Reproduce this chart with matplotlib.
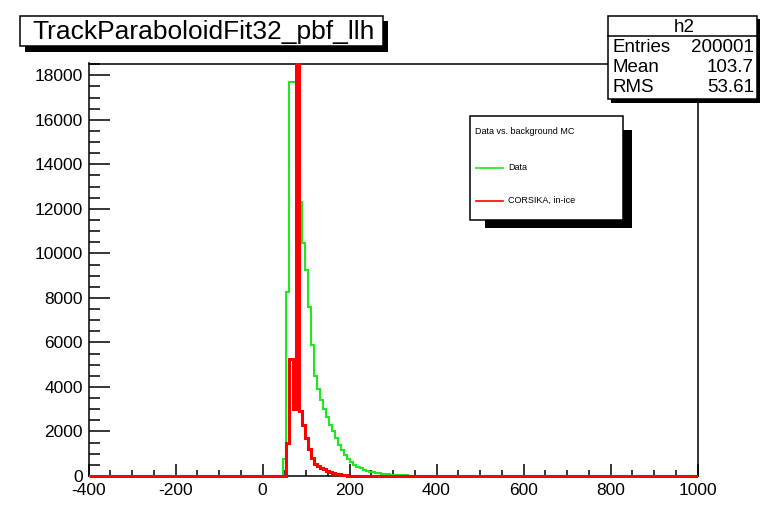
import numpy as np
import matplotlib.pyplot as plt
from matplotlib.patches import Rectangle
from matplotlib.lines import Line2D
from matplotlib.ticker import MultipleLocator

plt.rcParams['font.family'] = ['Liberation Sans', 'DejaVu Sans']
plt.rcParams['axes.unicode_minus'] = False

# binning: 200 bins from -400 to 1000
x_min, x_max, bin_width = -400, 1000, 7

# Data (green), first non-empty bin starts at 48
data_start = 48
data_counts = [770, 8250, 17700, 17700, 14000, 12300, 10480, 9250, 7600, 5900,
               4500, 3900, 3400, 3000, 2650, 2300, 2000, 1700, 1400, 1150,
               950, 780, 630, 510, 420, 350, 290, 240, 200, 165,
               140, 115, 95, 80, 68, 58, 50, 42, 35, 30,
               25, 20, 15, 8]

# CORSIKA in-ice (red), first non-empty bin starts at 55
mc_start = 55
mc_counts = [1500, 5260, 3000, 26000, 2900, 2300, 1700, 1200, 800, 560,
             450, 380, 300, 240, 180, 140, 100, 70, 50, 30, 15]

title_text = "TrackParaboloidFit32_pbf_llh"
stats_name = "h2"
stats_rows = [("Entries", "200001"), ("Mean", "103.7"), ("RMS", "53.61")]
legend_header = "Data vs. background MC"
legend_labels = ["Data", "CORSIKA, in-ice"]

edges = np.arange(x_min, x_max + bin_width, bin_width)


def full_hist(start, counts):
    vals = np.zeros(len(edges) - 1)
    i0 = (start - x_min) // bin_width
    vals[i0:i0 + len(counts)] = counts
    return vals


W, H = 761, 505


def fx(x):
    return x / W


def fy(y):
    return 1 - y / H


fig = plt.figure(figsize=(W / 100, H / 100), dpi=100)
ax = fig.add_axes([fx(88.5), fy(476), fx(697.5) - fx(88.5), fy(63.5) - fy(476)])

green = "#1ee81e"
red = "#ff0000"
# clip slightly below the x axis so the zero line sits on top of it (ROOT style)
clip = Rectangle((0, -0.006), 1, 1.008, transform=ax.transAxes, visible=False)
ax.add_patch(clip)
h_data = ax.stairs(full_hist(data_start, data_counts), edges, color=green, lw=1.5, zorder=3)
h_mc = ax.stairs(full_hist(mc_start, mc_counts), edges, color=red, lw=2.2, zorder=4)
h_data.set_clip_path(clip)
h_mc.set_clip_path(clip)

ax.set_xlim(x_min, x_max)
ax.set_ylim(0, 18530)
ax.xaxis.set_major_locator(MultipleLocator(200))
ax.xaxis.set_minor_locator(MultipleLocator(50))
ax.yaxis.set_major_locator(MultipleLocator(2000))
ax.yaxis.set_minor_locator(MultipleLocator(500))
ax.tick_params(which="both", direction="in", top=False, right=False, width=1.1)
ax.tick_params(which="major", labelsize=12.5)
ax.tick_params(axis="x", which="major", length=8.6, pad=5)
ax.tick_params(axis="x", which="minor", length=4.3)
ax.tick_params(axis="y", which="major", length=15, pad=4)
ax.tick_params(axis="y", which="minor", length=8)
for s in ax.spines.values():
    s.set_linewidth(1.1)


def box(x0, y0, x1, y1, shadow=None):
    if shadow is not None:
        sx0, sy0, sx1, sy1 = shadow
        fig.add_artist(Rectangle((fx(sx0), fy(sy1)), fx(sx1) - fx(sx0), fy(sy0) - fy(sy1),
                                 transform=fig.transFigure, facecolor="black",
                                 edgecolor="none", zorder=5))
    fig.add_artist(Rectangle((fx(x0), fy(y1)), fx(x1) - fx(x0), fy(y0) - fy(y1),
                             transform=fig.transFigure, facecolor="white",
                             edgecolor="black", lw=1.1, zorder=6))


# title box
box(20, 16, 383, 46, shadow=(25, 21, 388, 52))
fig.text(fx(204), fy(31.5), title_text, ha="center", va="center", fontsize=19, zorder=7)

# stats box
box(608, 16, 757, 99, shadow=(611, 19, 760, 103))
fig.add_artist(Line2D([fx(608), fx(757)], [fy(36), fy(36)], transform=fig.transFigure,
                      color="black", lw=1.1, zorder=7))
fig.text(fx(684), fy(27), stats_name, ha="center", va="center", fontsize=13.5, zorder=7)
for i, (k, v) in enumerate(stats_rows):
    yy = 47 + i * 20.5
    fig.text(fx(613), fy(yy), k, ha="left", va="center", fontsize=13.5, zorder=7)
    fig.text(fx(754), fy(yy), v, ha="right", va="center", fontsize=13.5, zorder=7)

# legend box
box(470, 116, 623, 220, shadow=(485, 130, 632, 228))
fig.text(fx(475), fy(132), legend_header, ha="left", va="center", fontsize=6.5, zorder=7)
for lab, col, yy in zip(legend_labels, [green, red], [168, 201]):
    fig.add_artist(Line2D([fx(476), fx(503)], [fy(yy), fy(yy)], transform=fig.transFigure,
                          color=col, lw=1.2, zorder=7))
    fig.text(fx(508), fy(yy - 1), lab, ha="left", va="center", fontsize=6.5, zorder=7)

fig.savefig("out.png", dpi=100)
